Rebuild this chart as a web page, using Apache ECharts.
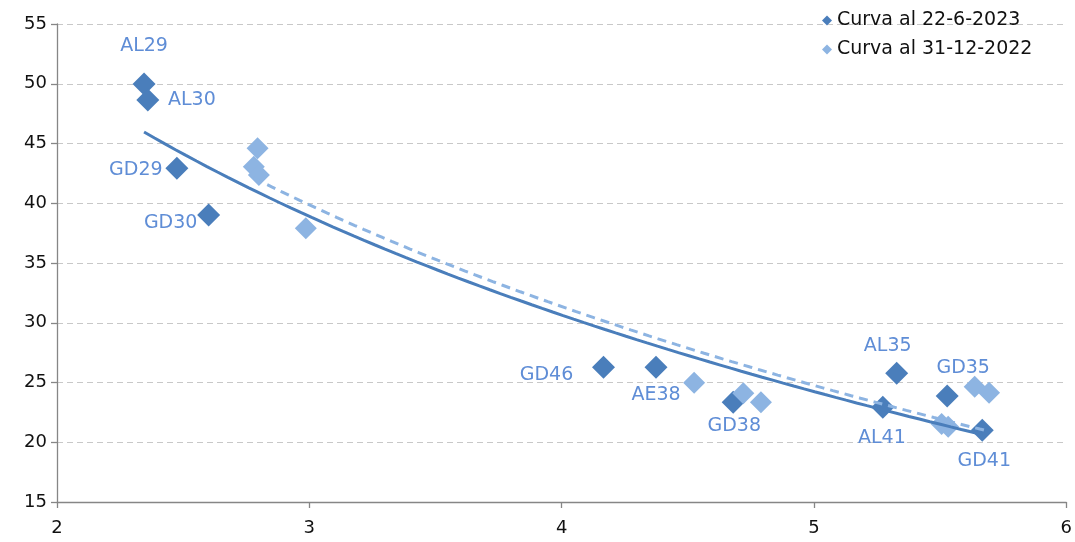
<!DOCTYPE html>
<html>
<head>
<meta charset="utf-8">
<script src="https://cdn.jsdelivr.net/npm/echarts@6/dist/echarts.min.js"></script>
<style>
html,body{margin:0;padding:0;background:#fff;}
#chart{width:1075px;height:542px;}
</style>
</head>
<body>
<div id="chart"></div>
<script>
// ---- data ----
const seriesNames = ['Curva al 22-6-2023', 'Curva al 31-12-2022'];
const bondNames = ['AL29', 'AL30', 'GD29', 'GD30', 'GD46', 'AE38', 'GD38', 'AL41', 'AL35', 'GD35', 'GD41'];
const durationJun23 = [2.345, 2.36, 2.475, 2.601, 4.166, 4.374, 4.68, 5.273, 5.328, 5.528, 5.667];
const yieldJun23    = [49.98, 48.64, 42.92, 39.02, 26.27, 26.27, 23.34, 22.93, 25.77, 23.87, 21.0];
const durationDec22 = [2.795, 2.78, 2.80, 2.986, 4.525, 4.72, 4.79, 5.506, 5.532, 5.637, 5.694];
const yieldDec22    = [44.6, 43.06, 42.36, 37.9, 24.98, 24.1, 23.34, 21.53, 21.3, 24.65, 24.15];
const xTicks = [2, 3, 4, 5, 6];
const yTicks = [15, 20, 25, 30, 35, 40, 45, 50, 55];

// ---- label placement (pixel offsets from marker centre) ----
const labelOffsets = {
  AL29: [0, -38], AL30: [44, 0], GD29: [-41, 2], GD30: [-38, 8],
  GD46: [-57, 8], AE38: [0, 28], GD38: [1, 24], AL41: [-1, 31],
  AL35: [-9, -27], GD35: [16, -28], GD41: [2, 31]
};

const darkBlue = '#4a7ebb';
const lightBlue = '#8db4e2';
const labelColor = '#5f8dd6';
const FONT = 'DejaVu Sans';

// logarithmic least-squares trend (as a spreadsheet trendline does)
function logTrend(xs, ys) {
  const lx = xs.map(Math.log);
  const n = xs.length;
  const mx = lx.reduce((a, b) => a + b, 0) / n;
  const my = ys.reduce((a, b) => a + b, 0) / n;
  let sxy = 0, sxx = 0;
  for (let i = 0; i < n; i++) { sxy += (lx[i] - mx) * (ys[i] - my); sxx += (lx[i] - mx) * (lx[i] - mx); }
  const b = sxy / sxx, a = my - b * mx;
  const x0 = Math.min(...xs), x1 = Math.max(...xs);
  const pts = [];
  const steps = 80;
  for (let i = 0; i <= steps; i++) {
    const x = x0 + (x1 - x0) * i / steps;
    pts.push([x, a + b * Math.log(x)]);
  }
  return pts;
}

const darkData = durationJun23.map((x, i) => ({
  value: [x, yieldJun23[i]],
  name: bondNames[i],
  label: { show: true, position: 'inside', offset: labelOffsets[bondNames[i]], formatter: bondNames[i] }
}));
const lightData = durationDec22.map((x, i) => [x, yieldDec22[i]]);

const chart = echarts.init(document.getElementById('chart'), null, { renderer: 'canvas' });
chart.setOption({
  animation: false,
  backgroundColor: '#fff',
  textStyle: { fontFamily: FONT },
  grid: { left: 57, right: 5, top: 24, bottom: 40, containLabel: false },
  legend: {
    data: [
      { name: seriesNames[0], icon: 'diamond', itemStyle: { color: darkBlue } },
      { name: seriesNames[1], icon: 'diamond', itemStyle: { color: lightBlue } }
    ],
    orient: 'vertical',
    left: 817, top: 6,
    itemWidth: 10, itemHeight: 10, itemGap: 10,
    textStyle: { fontFamily: FONT, fontSize: 19, color: '#111' }
  },
  xAxis: {
    type: 'value', min: xTicks[0], max: xTicks[xTicks.length - 1], interval: 1,
    axisLine: { show: true, lineStyle: { color: '#868686', width: 1.3 } },
    axisTick: { show: true, length: 6, lineStyle: { color: '#868686', width: 1.3 } },
    axisLabel: { fontFamily: FONT, fontSize: 18, color: '#111', margin: 17 },
    splitLine: { show: false }
  },
  yAxis: {
    type: 'value', min: yTicks[0], max: yTicks[yTicks.length - 1], interval: 5,
    axisLine: { show: true, lineStyle: { color: '#868686', width: 1.3 } },
    axisTick: { show: true, length: 6, lineStyle: { color: '#868686', width: 1.3 } },
    axisLabel: { fontFamily: FONT, fontSize: 18, color: '#111', margin: 10 },
    splitLine: { show: true, lineStyle: { color: '#c8c8c8', type: [6, 4], width: 1 } }
  },
  series: [
    {
      name: seriesNames[0], type: 'scatter', symbol: 'diamond', symbolSize: [23, 23],
      itemStyle: { color: darkBlue, opacity: 1 }, data: darkData, z: 2,
      label: { fontFamily: FONT, fontSize: 19, color: labelColor }
    },
    {
      name: seriesNames[1], type: 'scatter', symbol: 'diamond', symbolSize: [22, 22],
      itemStyle: { color: lightBlue, opacity: 1 }, data: lightData, z: 3
    },
    {
      name: 'trend1', type: 'line', showSymbol: false, symbol: 'none', silent: true, z: 4,
      lineStyle: { color: darkBlue, width: 3 }, data: logTrend(durationJun23, yieldJun23)
    },
    {
      name: 'trend2', type: 'line', showSymbol: false, symbol: 'none', silent: true, z: 4,
      lineStyle: { color: lightBlue, width: 3, type: [9, 6] }, data: logTrend(durationDec22, yieldDec22)
    }
  ]
});
</script>
</body>
</html>
